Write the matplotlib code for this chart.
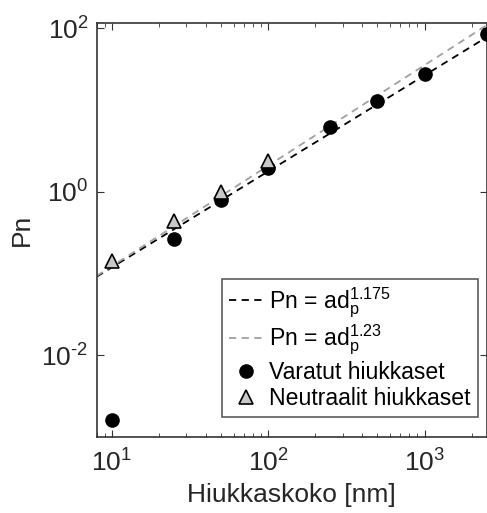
import numpy as np
import matplotlib
matplotlib.use("Agg")
import matplotlib.pyplot as plt
from matplotlib.ticker import FuncFormatter, NullLocator

plt.rcParams['font.family'] = ['Liberation Sans', 'DejaVu Sans']
plt.rcParams['mathtext.fontset'] = 'custom'
plt.rcParams['mathtext.rm'] = 'Liberation Sans'
plt.rcParams['mathtext.it'] = 'Liberation Sans'
plt.rcParams['axes.unicode_minus'] = False

# particle sizes [nm] and Pn values
d_charged = [10, 25, 50, 100, 250, 500, 1000, 2500]
pn_charged = [0.0016, 0.26, 0.79, 1.92, 6.2, 13.0, 27.7, 84.0]
d_neutral = [10, 25, 50, 100]
pn_neutral = [0.141, 0.44, 1.0, 2.34]

# power law fits Pn = a * d^b
a_charged, b_charged = 0.0079, 1.175
a_neutral, b_neutral = 0.0072, 1.23


def pow10(v, pos):
    e = int(round(np.log10(v)))
    s = str(abs(e)) if e >= 0 else r'\text{-}' + str(abs(e))
    return r'$\mathregular{10^{' + s + '}}$'


fig = plt.figure(figsize=(4.87, 5.13), dpi=100)
ax = fig.add_axes([0.1986, 0.1487, 0.8008, 0.806])

d_fit = np.logspace(np.log10(8), np.log10(2500), 200)
ax.plot(d_fit, a_charged * d_fit ** b_charged, color='black', lw=1.3,
        dashes=(4, 3), label=r'Pn = ad$_\mathregular{p}^\mathregular{1.175}$')
ax.plot(d_fit, a_neutral * d_fit ** b_neutral, color='#a0a0a0', lw=1.3,
        dashes=(4, 3), label=r'Pn = ad$_\mathregular{p}^\mathregular{1.23}$')
ax.plot(d_charged, pn_charged, 'o', color='black', ms=9.5, clip_on=False,
        label='Varatut hiukkaset', zorder=3)
ax.plot(d_neutral, pn_neutral, '^', mfc='#c8c8c8', mec='black', mew=1.2,
        ms=10, clip_on=False, label='Neutraalit hiukkaset', zorder=4)

ax.set_xscale('log')
ax.set_yscale('log')
ax.set_xlim(8, 2500)
ax.set_ylim(1e-3, 115)
ax.set_xticks([10, 100, 1000])
ax.set_yticks([1e-2, 1, 1e2])
ax.xaxis.set_major_formatter(FuncFormatter(pow10))
ax.yaxis.set_major_formatter(FuncFormatter(pow10))
ax.yaxis.set_minor_locator(NullLocator())
ax.tick_params(which='both', direction='in', top=True, right=True,
               labelsize=19, color='#333333', labelcolor='#262626')
ax.tick_params(which='major', length=5)
ax.tick_params(which='minor', length=3)
ax.tick_params(axis='x', which='major', pad=9)
ax.tick_params(axis='y', which='major', pad=6)
for s in ax.spines.values():
    s.set_color('#333333')
    s.set_linewidth(1.2)

ax.set_xlabel('Hiukkaskoko [nm]', fontsize=19, color='#262626')
ax.set_ylabel('Pn', fontsize=19, color='#262626')
ax.xaxis.set_label_coords(0.5, -0.112)
ax.yaxis.set_label_coords(-0.16, 0.5)

leg = ax.legend(loc='lower right', bbox_to_anchor=(0.977, 0.047), fontsize=16.6,
                frameon=True, fancybox=False, edgecolor='#333333',
                handlelength=1.5, handletextpad=0.25, labelspacing=0.15,
                borderpad=0.3, borderaxespad=0)
leg.get_frame().set_linewidth(1.2)

fig.savefig('out.png', dpi=100)
